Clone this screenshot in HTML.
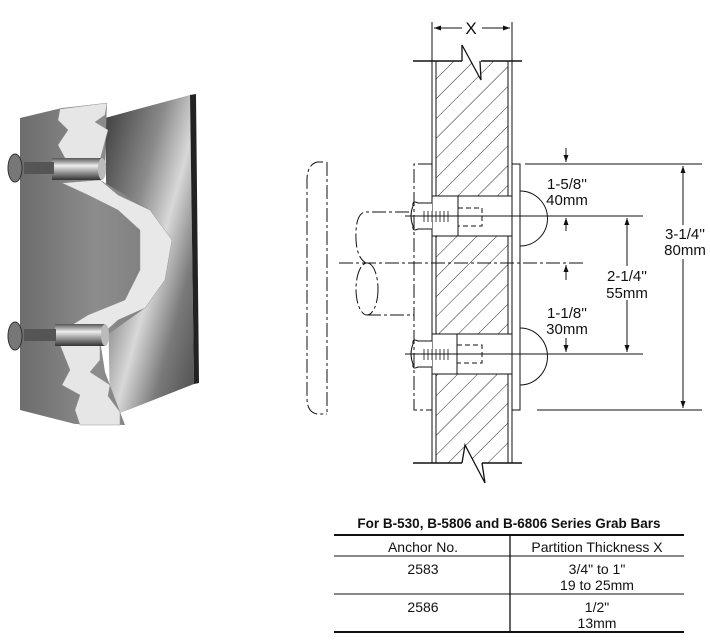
<!DOCTYPE html>
<html><head><meta charset="utf-8"><style>
html,body{margin:0;padding:0;background:#fff;}
svg{display:block;}
text{font-family:"Liberation Sans",Arial,sans-serif;fill:#111;}
</style></head><body>
<svg width="710" height="642" viewBox="0 0 710 642" xmlns="http://www.w3.org/2000/svg">
<defs>
<pattern id="hatch" patternUnits="userSpaceOnUse" width="14" height="14" patternTransform="rotate(45)">
<line x1="0" y1="0" x2="0" y2="14" stroke="#111" stroke-width="0.9"/>
</pattern>
<linearGradient id="metal" x1="0" y1="0" x2="1" y2="1">
<stop offset="0" stop-color="#3a3a3a"/><stop offset="0.35" stop-color="#8a8a8a"/><stop offset="0.55" stop-color="#d8d8d8"/><stop offset="0.75" stop-color="#7a7a7a"/><stop offset="1" stop-color="#4a4a4a"/>
</linearGradient>
<linearGradient id="wood" x1="0" y1="0" x2="1" y2="0">
<stop offset="0" stop-color="#6d6d6d"/><stop offset="0.5" stop-color="#8c8c8c"/><stop offset="1" stop-color="#7a7a7a"/>
</linearGradient>
<linearGradient id="sleeve" x1="0" y1="0" x2="0" y2="1">
<stop offset="0" stop-color="#555"/><stop offset="0.35" stop-color="#eee"/><stop offset="0.7" stop-color="#888"/><stop offset="1" stop-color="#333"/>
</linearGradient>
<marker id="ah" markerWidth="8" markerHeight="8" refX="7" refY="4" orient="auto" markerUnits="userSpaceOnUse">
<path d="M0,1.5 L7,4 L0,6.5 Z" fill="#111"/></marker>
</defs>

<polygon points="105,118 190,95 194,384 110,417" fill="url(#metal)"/>
<polygon points="190,95 196,94 199,383 194,384" fill="#222"/>
<polygon points="20,118 62,108 107,103 105,160 100,180 150,210 172,240 165,280 145,308 100,340 105,372 120,412 125,425 75,424 20,410" fill="url(#wood)"/>
<polygon points="60,109 107,103 105,115 95,122 108,130 100,160 66,160 58,145 68,130 58,120" fill="#e6e6e6" stroke="#999" stroke-width="0.5"/>
<polygon points="62,183 100,180 118,195 150,210 172,240 165,280 145,308 118,320 98,338 64,330 88,315 125,300 140,270 140,230 118,210 88,195" fill="#e8e8e8" stroke="#999" stroke-width="0.5"/>
<polygon points="60,345 100,345 100,360 90,372 110,385 108,396 120,412 120,425 80,425 75,410 80,395 62,385 70,370" fill="#e6e6e6" stroke="#999" stroke-width="0.5"/>
<rect x="52" y="158" width="50" height="22" fill="url(#sleeve)"/>
<ellipse cx="102" cy="169" rx="4" ry="11" fill="#bbb"/>
<rect x="24" y="162" width="30" height="12" fill="#555"/>
<ellipse cx="15" cy="168" rx="7" ry="14" fill="#777" stroke="#333"/>
<rect x="55" y="324" width="50" height="22" fill="url(#sleeve)"/>
<ellipse cx="105" cy="335" rx="4" ry="11" fill="#bbb"/>
<rect x="24" y="329" width="32" height="12" fill="#555"/>
<ellipse cx="15" cy="336" rx="7" ry="14" fill="#777" stroke="#333"/>

<g stroke="#111" fill="none" stroke-width="1">
<rect x="436" y="61" width="72" height="135" fill="url(#hatch)" stroke="none"/>
<rect x="436" y="236" width="72" height="98" fill="url(#hatch)" stroke="none"/>
<rect x="436" y="374" width="72" height="89" fill="url(#hatch)" stroke="none"/>
<line x1="432" y1="61" x2="432" y2="463"/><line x1="436" y1="61" x2="436" y2="463"/>
<line x1="508" y1="61" x2="508" y2="463"/><line x1="512" y1="61" x2="512" y2="463"/>
<line x1="413" y1="61" x2="462" y2="61" stroke-width="1.6"/><line x1="481" y1="61" x2="522" y2="61" stroke-width="1.6"/>
<polyline points="462,61 462,45 481,80 480,61" fill="#fff" stroke-width="1.3"/>
<line x1="413" y1="463" x2="462" y2="463" stroke-width="1.6"/><line x1="482" y1="463" x2="522" y2="463" stroke-width="1.6"/>
<polyline points="462,463 465,445 485,483 482,463" fill="#fff" stroke-width="1.3"/>
<line x1="432" y1="22" x2="432" y2="61"/><line x1="512" y1="22" x2="512" y2="61"/>
<line x1="462" y1="28" x2="434" y2="28" marker-end="url(#ah)"/>
<line x1="482" y1="28" x2="510" y2="28" marker-end="url(#ah)"/>
<rect x="432" y="196" width="80" height="40" fill="#fff"/>
<rect x="458" y="196" width="54" height="40"/>
<rect x="458" y="208" width="24" height="18" stroke-dasharray="5,3"/>
<rect x="432" y="334" width="80" height="40" fill="#fff"/>
<rect x="457" y="334" width="55" height="40"/>
<rect x="457" y="345" width="25" height="18" stroke-dasharray="5,3"/>
<path d="M432,203 L418,203 Q412,200 413,206 Q409,216 413,226 Q412,232 418,229 L432,229" fill="#fff"/>
<path d="M432,341 L418,341 Q412,338 413,344 Q409,354 413,364 Q412,370 418,367 L432,367" fill="#fff"/>
<g stroke-width="0.8">
<line x1="424" y1="211" x2="424" y2="222"/><line x1="428" y1="211" x2="428" y2="222"/><line x1="432" y1="211" x2="432" y2="222"/><line x1="436" y1="211" x2="436" y2="222"/><line x1="440" y1="211" x2="440" y2="222"/><line x1="444" y1="211" x2="444" y2="222"/><line x1="448" y1="211" x2="448" y2="222"/>
<line x1="424" y1="349" x2="424" y2="360"/><line x1="428" y1="349" x2="428" y2="360"/><line x1="432" y1="349" x2="432" y2="360"/><line x1="436" y1="349" x2="436" y2="360"/><line x1="440" y1="349" x2="440" y2="360"/><line x1="444" y1="349" x2="444" y2="360"/><line x1="448" y1="349" x2="448" y2="360"/>
</g>
<rect x="512" y="164" width="8" height="246" fill="#fff"/>
<path d="M520,191 A27,27 0 0 1 520,246"/>
<path d="M520,328 A27,28 0 0 1 520,385"/>
<line x1="405" y1="216" x2="643" y2="216"/>
<line x1="405" y1="354" x2="643" y2="354"/>
<line x1="339" y1="263" x2="583" y2="263" stroke-dasharray="14,3,3,3"/>
<polyline points="432,164 414,164 414,410 432,410" stroke-dasharray="14,3,3,3"/>
<path d="M323,162 L317,162 Q307,165 307,180 L307,398 Q307,412 317,414 L327,414 M327,162 L327,414" stroke-dasharray="14,3,3,3"/>
<path d="M409,212 L365,212 Q355,214 356,240 Q357,258 366,263" stroke-dasharray="14,3,3,3"/>
<ellipse cx="367" cy="289" rx="11" ry="26" stroke-dasharray="14,3,3,3"/>
<line x1="367" y1="315" x2="414" y2="315" stroke-dasharray="14,3,3,3"/>
<line x1="525" y1="164" x2="702" y2="164"/>
<line x1="537" y1="410" x2="702" y2="410"/>
<line x1="683" y1="225" x2="683" y2="166" marker-end="url(#ah)"/>
<line x1="683" y1="259" x2="683" y2="408" marker-end="url(#ah)"/>
<line x1="627" y1="266" x2="627" y2="218" marker-end="url(#ah)"/>
<line x1="627" y1="300" x2="627" y2="352" marker-end="url(#ah)"/>
<line x1="566" y1="148" x2="566" y2="162" marker-end="url(#ah)"/>
<line x1="566" y1="231" x2="566" y2="218" marker-end="url(#ah)"/>
<line x1="566" y1="280" x2="566" y2="265" marker-end="url(#ah)"/>
<line x1="566" y1="338" x2="566" y2="352" marker-end="url(#ah)"/>
</g>
<g font-size="15" text-anchor="middle">
<text x="471" y="34" font-size="17">X</text>
<text x="567" y="189">1-5/8''</text><text x="567" y="205">40mm</text>
<text x="567" y="318">1-1/8''</text><text x="567" y="334">30mm</text>
<text x="627" y="281">2-1/4''</text><text x="627" y="298">55mm</text>
<text x="685" y="239">3-1/4''</text><text x="685" y="255">80mm</text>
</g>

<text x="509" y="528" font-size="13.5" font-weight="bold" text-anchor="middle">For B-530, B-5806 and B-6806 Series Grab Bars</text>
<line x1="334" y1="535" x2="684" y2="535" stroke="#111" stroke-width="2"/>
<line x1="510" y1="535" x2="510" y2="632" stroke="#111" stroke-width="1.3"/>
<line x1="334" y1="556" x2="684" y2="556" stroke="#111" stroke-width="1"/>
<line x1="334" y1="594" x2="684" y2="594" stroke="#111" stroke-width="1"/>
<line x1="334" y1="632" x2="684" y2="632" stroke="#111" stroke-width="2"/>
<g font-size="14" text-anchor="middle">
<text x="423" y="552">Anchor No.</text><text x="597" y="552">Partition Thickness X</text>
<text x="423" y="574">2583</text><text x="597" y="574">3/4" to 1"</text><text x="597" y="590">19 to 25mm</text>
<text x="423" y="612">2586</text><text x="597" y="612">1/2"</text><text x="597" y="628">13mm</text>
</g>
</svg>
</body></html>
